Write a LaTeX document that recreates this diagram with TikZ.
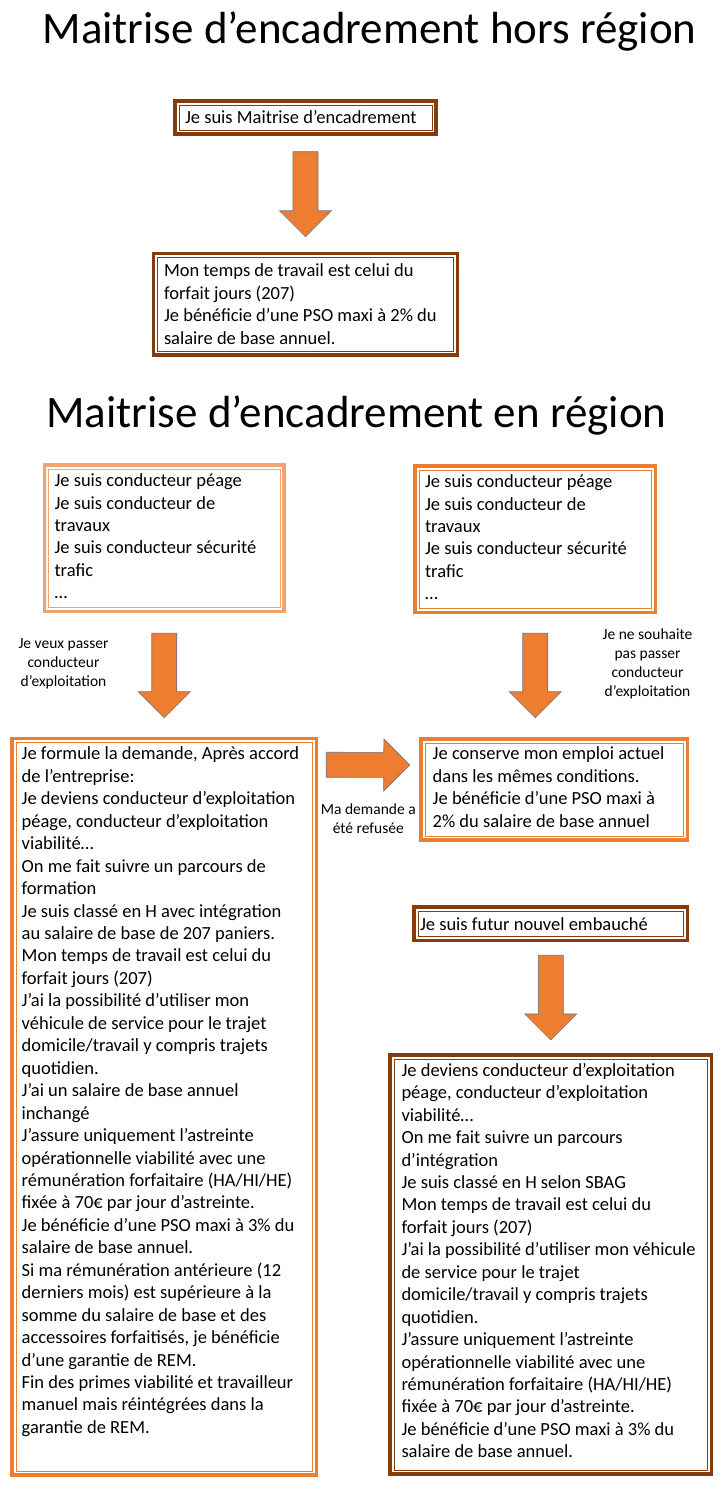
\documentclass[tikz,border=0pt]{standalone}
\usepackage{fontspec}
\setmainfont{Carlito}
\usepackage{tikz}
\usetikzlibrary{positioning, calc}

\definecolor{brownline}{HTML}{843C0C}
\definecolor{orangeline}{HTML}{ED7D31}
\definecolor{paleorange}{HTML}{F3A46C}
\definecolor{arrowfill}{HTML}{ED7D31}
\definecolor{arrowedge}{HTML}{6F7282}

\begin{document}
\begin{tikzpicture}[x=1pt, y=-1pt,
  framebox/.style={draw=#1, line width=3.5pt, fill=white, align=flush left,
    font=\fontsize{18.5}{22.45}\selectfont, inner ysep=4pt,
    execute at begin node={\spaceskip=0pt\xspaceskip=0pt},
    path picture={\draw[#1, line width=0.8pt]
      ([shift={(4pt,4pt)}]path picture bounding box.south west) rectangle
      ([shift={(-4pt,-4pt)}]path picture bounding box.north east);}},
  heading/.style={font=\fontsize{45}{54}\selectfont, anchor=base},
  sidenote/.style={font=\fontsize{15.5}{19}\selectfont, align=center,
    execute at begin node={\spaceskip=0pt\xspaceskip=0pt}},
  bigarrow/.style={fill=arrowfill, draw=arrowedge, line width=0.6pt,
    to path={($(\tikztostart)!12.5pt!90:(\tikztotarget)$)
      -- ($($(\tikztotarget)!26pt!(\tikztostart)$)!12.5pt!-90:(\tikztostart)$)
      -- ($($(\tikztotarget)!26pt!(\tikztostart)$)!26pt!-90:(\tikztostart)$)
      -- (\tikztotarget)
      -- ($($(\tikztotarget)!26pt!(\tikztostart)$)!26pt!90:(\tikztostart)$)
      -- ($($(\tikztotarget)!26pt!(\tikztostart)$)!12.5pt!90:(\tikztostart)$)
      -- ($(\tikztostart)!12.5pt!-90:(\tikztotarget)$) -- cycle}}]
\fill[white] (0,0) rectangle (721,1490);
\useasboundingbox (0,0) rectangle (721,1490);

% Hors region
\node[heading] (titlehors) at (369.5,44) {Maitrise d’encadrement hors région};
\node[framebox=brownline, minimum width=261pt, minimum height=33pt, inner xsep=10pt, text width=241pt] (mhors) at (305.5,117.5) {Je suis Maitrise d’encadrement};
\node[framebox=brownline, minimum width=304pt, minimum height=101.5pt, inner xsep=10.5pt, text width=283pt] (hors) at (305.5,304.25) {Mon temps de travail est celui du\\forfait jours (207)\\Je bénéficie d’une PSO maxi à 2\% du\\salaire de base annuel.};

% En region
\node[heading] (titleregion) at (356.5,427) {Maitrise d’encadrement en région};
\node[framebox=paleorange, minimum width=239.5pt, minimum height=146.5pt, inner xsep=10pt, text width=219.5pt] (condl) at (164.25,538.25) {Je suis conducteur péage\\Je suis conducteur de\\travaux\\Je suis conducteur sécurité\\trafic\\…\rule[-4pt]{0pt}{4pt}};
\node[framebox=orangeline, minimum width=240.5pt, minimum height=146.5pt, inner xsep=10pt, text width=220.5pt] (condr) at (535.25,539.25) {Je suis conducteur péage\\Je suis conducteur de\\travaux\\Je suis conducteur sécurité\\trafic\\…\rule[-4pt]{0pt}{4pt}};

\node[framebox=orangeline, minimum width=304.5pt, minimum height=736.5pt, inner xsep=9.7pt, text width=285.1pt] (demande) at (164.25,1106.75) {Je formule la demande, Après accord\\de l’entreprise:\\Je deviens conducteur d’exploitation\\péage, conducteur d’exploitation\\viabilité…\\On me fait suivre un parcours de\\formation\\Je suis classé en H avec intégration\\au salaire de base de 207 paniers.\\Mon temps de travail est celui du\\forfait jours (207)\\J’ai la possibilité d’utiliser mon\\véhicule de service pour le trajet\\domicile/travail y compris trajets\\quotidien.\\J’ai un salaire de base annuel\\inchangé\\J’assure uniquement l’astreinte\\opérationnelle viabilité avec une\\rémunération forfaitaire (HA/HI/HE)\\fixée à 70€ par jour d’astreinte.\\Je bénéficie d’une PSO maxi à 3\% du\\salaire de base annuel.\\Si ma rémunération antérieure (12\\derniers mois) est supérieure à la\\somme du salaire de base et des\\accessoires forfaitisés, je bénéficie\\d’une garantie de REM.\\Fin des primes viabilité et travailleur\\manuel mais réintégrées dans la\\garantie de REM.\rule[-33pt]{0pt}{33pt}};
\node[framebox=orangeline, minimum width=266.5pt, minimum height=101pt, inner xsep=11.7pt, text width=243.1pt] (conserve) at (554.25,789.5) {Je conserve mon emploi actuel\\dans les mêmes conditions.\\Je bénéficie d’une PSO maxi à\\2\% du salaire de base annuel\rule[-5pt]{0pt}{5pt}};

\node[framebox=brownline, minimum width=273.5pt, minimum height=33.5pt, inner xsep=6pt, text width=261.5pt] (futur) at (550.75,923.75) {Je suis futur nouvel embauché};
\node[framebox=brownline, minimum width=321.5pt, minimum height=419pt, inner xsep=11.5pt, text width=298.5pt] (nouveau) at (550.75,1264.5) {Je deviens conducteur d’exploitation\\péage, conducteur d’exploitation\\viabilité…\\On me fait suivre un parcours\\d’intégration\\Je suis classé en H selon SBAG\\Mon temps de travail est celui du\\forfait jours (207)\\J’ai la possibilité d’utiliser mon véhicule\\de service pour le trajet\\domicile/travail y compris trajets\\quotidien.\\J’assure uniquement l’astreinte\\opérationnelle viabilité avec une\\rémunération forfaitaire (HA/HI/HE)\\fixée à 70€ par jour d’astreinte.\\Je bénéficie d’une PSO maxi à 3\% du\\salaire de base annuel.\rule[-8pt]{0pt}{8pt}};

% Arrows
\coordinate (horsfrom) at ([yshift=-16pt]mhors.south);
\coordinate (horsto) at ([yshift=15pt]hors.north);
\coordinate (veuxfrom) at ([yshift=-20pt]condl.south);
\coordinate (veuxto) at ([yshift=19pt]demande.north);
\coordinate (garde) at (condr.south |- conserve.north);
\coordinate (gardefrom) at ([yshift=-19pt]condr.south);
\coordinate (gardeto) at ([yshift=19.5pt]garde);
\coordinate (refusfrom) at ([xshift=8pt,yshift=-28pt]demande.north east);
\coordinate (refusto) at ([xshift=-9.5pt,yshift=-27.7pt]conserve.north west);
\coordinate (futurfrom) at ([yshift=-13pt]futur.south);
\coordinate (futurto) at ([yshift=13.3pt]nouveau.north);

\draw[bigarrow] (horsfrom) to (horsto);
\draw[bigarrow] (veuxfrom) to (veuxto);
\draw[bigarrow] (gardefrom) to (gardeto);
\draw[bigarrow] (refusfrom) to (refusto);
\draw[bigarrow] (futurfrom) to (futurto);

% Annotations
\node[sidenote] (veux) at (63.5,664) {Je veux passer\\conducteur\\d’exploitation};
\node[sidenote] (pasveux) at (647.5,664) {Je ne souhaite\\pas passer\\conducteur\\d’exploitation};
\node[sidenote] (refus) at (368.3,818.5) {Ma demande a\\été refusée};
\end{tikzpicture}
\end{document}
